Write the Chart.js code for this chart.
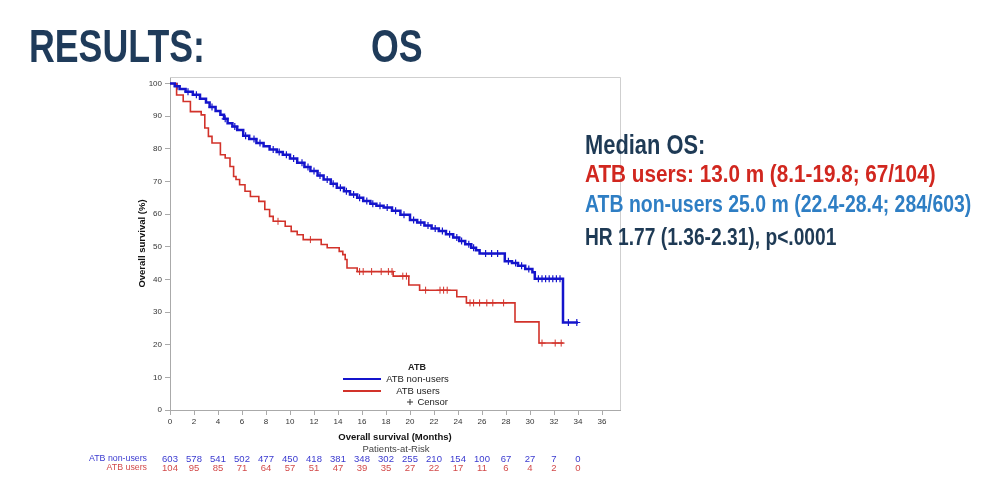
<!DOCTYPE html>
<html>
<head>
<meta charset="utf-8">
<script src="https://cdn.jsdelivr.net/npm/chart.js@4.4.1/dist/chart.umd.min.js"></script>
<style>
body{margin:0;background:#fff;}
#page{position:relative;width:988px;height:494px;overflow:hidden;font-family:'Liberation Sans',Arial,sans-serif;}
canvas{position:absolute;left:0;top:0;}
.t{position:absolute;white-space:nowrap;font-weight:bold;line-height:1;transform-origin:0 0;}
</style>
</head>
<body>
<div id="page">
<canvas id="graphique" width="988" height="494"></canvas>
<div class="t" style="left:29px;top:22px;font-size:47px;color:#1f3b5a;transform:scaleX(0.76)">RESULTS:</div>
<div class="t" style="left:371px;top:22px;font-size:47px;color:#1f3b5a;transform:scaleX(0.76)">OS</div>
<div class="t" style="left:585px;top:132px;font-size:27px;color:#1e3a55;transform:scaleX(0.81)">Median OS:</div>
<div class="t" style="left:585px;top:163px;font-size:23px;color:#d1271f;transform:scaleX(0.9)">ATB users: 13.0 m (8.1-19.8; 67/104)</div>
<div class="t" style="left:585px;top:193px;font-size:23px;color:#2e7ec4;transform:scaleX(0.845)">ATB non-users 25.0 m (22.4-28.4; 284/603)</div>
<div class="t" style="left:585px;top:226px;font-size:23px;color:#1e3a55;transform:scaleX(0.835)">HR 1.77 (1.36-2.31), p&lt;.0001</div>
</div>
<script>
//courbe ATB non-users (mois, survie %)
var nonUsersTemps = [0,0.4,0.8,1.3,1.9,2.5,3.0,3.3,3.8,4.2,4.5,4.8,5.2,5.6,6.1,6.6,7.2,7.8,8.3,8.9,9.4,10.0,10.6,11.2,11.7,12.3,12.8,13.4,13.9,14.5,15.0,15.6,16.1,16.7,17.2,17.8,18.5,19.2,20.0,20.6,21.2,21.8,22.4,23.0,23.6,24.1,24.6,25.1,25.5,25.8,27.9,28.5,29.0,29.6,30.2,30.4,32.75,34.0];
var nonUsersSurvie = [100,99.2,98.3,97.5,96.6,95.3,94.2,92.8,91.6,90.4,89.2,87.8,86.8,85.8,84.0,83.0,81.8,80.8,79.8,79.0,78.2,77.0,75.7,74.4,73.2,71.8,70.6,69.3,68.1,67.0,66.0,65.0,64.0,63.2,62.6,62.0,61.0,59.8,58.2,57.4,56.5,55.6,54.8,53.8,52.8,51.8,50.8,49.7,48.9,47.9,45.6,45.0,44.2,43.2,42.2,40.2,26.8,26.8];

//courbe ATB users
var usersTemps = [0,0.55,1.1,1.7,2.6,2.9,3.2,3.5,4.2,4.6,5.0,5.3,5.5,5.8,6.25,6.7,7.4,7.9,8.3,8.6,9.6,10.1,10.6,11.1,12.6,13.1,14.1,14.4,14.6,14.75,15.6,18.6,19.9,20.8,23.9,24.7,28.75,30.75,32.8];
var usersSurvie = [100,96.5,94.5,91.4,90.4,86.4,83.8,81.8,78.2,77.2,74.6,71.5,70.6,69.0,67.0,65.4,63.9,61.4,59.3,57.8,56.3,54.7,53.7,52.2,50.7,49.7,48.6,47.6,46.1,43.5,42.4,41.0,38.3,36.7,34.7,32.8,27.0,20.5,20.5];

//censures
var nonUsersCensureTemps = [0.6,1.5,2.2,3.5,4.6,5.4,6.3,7.0,7.5,8.6,9.1,9.7,10.3,11.0,11.5,12.0,12.5,13.1,13.6,14.2,14.7,15.3,15.8,16.4,16.9,17.5,18.1,18.8,19.5,20.3,20.9,21.5,22.1,22.7,23.3,23.9,24.3,24.9,25.3,26.3,26.8,27.3,28.2,28.8,29.3,29.9,30.7,31.0,31.3,31.6,31.9,32.2,32.5,33.2,33.9];
var nonUsersCensureSurvie = [99.2,97.5,96.6,92.8,89.2,86.8,84.0,83.0,81.8,79.8,79.0,78.2,77.0,75.7,74.4,73.2,71.8,70.6,69.3,68.1,67.0,66.0,65.0,64.0,63.2,62.6,62.0,61.0,59.8,58.2,57.4,56.5,55.6,54.8,53.8,52.8,51.8,50.8,49.7,47.9,47.9,47.9,45.6,45.0,44.2,43.2,40.2,40.2,40.2,40.2,40.2,40.2,40.2,26.8,26.8];
var usersCensureTemps = [9.0,11.7,15.8,16.1,16.8,17.6,18.2,18.5,19.4,19.7,21.3,22.5,22.8,23.1,25.0,25.3,25.8,26.4,26.9,27.8,31.0,32.1,32.6];
var usersCensureSurvie = [57.8,52.2,42.4,42.4,42.4,42.4,42.4,42.4,41.0,41.0,36.7,36.7,36.7,36.7,32.8,32.8,32.8,32.8,32.8,32.8,20.5,20.5,20.5];

//graduations
var xTicks = [0,2,4,6,8,10,12,14,16,18,20,22,24,26,28,30,32,34,36];
var yTicks = [0,10,20,30,40,50,60,70,80,90,100];

//patients a risque
var risqueTemps = [0,2,4,6,8,10,12,14,16,18,20,22,24,26,28,30,32,34];
var risqueNonUsers = [603,578,541,502,477,450,418,381,348,302,255,210,154,100,67,27,7,0];
var risqueUsers = [104,95,85,71,64,57,51,47,39,35,27,22,17,11,6,4,2,0];

var bleu = '#1414cc';
var rouge = '#d2322a';

function points(xs, ys){
	var tab = [];
	for(let i = 0 ; i < xs.length ; i++){
		tab.push({x : xs[i], y : ys[i]});
	}
	return tab;
}

//cadre, legende et tableau des patients a risque
var decor = {
	id : 'decor',
	afterDraw(chart){
		var ctx = chart.ctx;
		var a = chart.chartArea;
		var sx = chart.scales.x;
		ctx.save();
		ctx.strokeStyle = '#cfcfcf';
		ctx.lineWidth = 1;
		ctx.beginPath();
		ctx.moveTo(a.left, a.top + 0.5);
		ctx.lineTo(a.right + 0.5, a.top + 0.5);
		ctx.lineTo(a.right + 0.5, a.bottom);
		ctx.stroke();

		//legende
		ctx.fillStyle = '#222';
		ctx.textBaseline = 'middle';
		ctx.textAlign = 'center';
		ctx.font = 'bold 9px "Liberation Sans", Arial';
		ctx.fillText('ATB', 417, 368);
		ctx.font = '9.5px "Liberation Sans", Arial';
		ctx.fillText('ATB non-users', 417.5, 379);
		ctx.fillText('ATB users', 418, 391);
		ctx.textAlign = 'right';
		ctx.fillText('Censor', 448, 402);
		ctx.lineWidth = 2;
		ctx.strokeStyle = bleu;
		ctx.beginPath(); ctx.moveTo(343, 379); ctx.lineTo(381, 379); ctx.stroke();
		ctx.strokeStyle = rouge;
		ctx.beginPath(); ctx.moveTo(343, 391); ctx.lineTo(381, 391); ctx.stroke();
		ctx.strokeStyle = '#333';
		ctx.lineWidth = 1;
		ctx.beginPath(); ctx.moveTo(407, 402); ctx.lineTo(413, 402); ctx.moveTo(410, 399); ctx.lineTo(410, 405); ctx.stroke();

		//patients a risque
		ctx.textAlign = 'center';
		ctx.fillStyle = '#444';
		ctx.font = '9.5px "Liberation Sans", Arial';
		ctx.fillText('Patients-at-Risk', 396, 449);
		for(let i = 0 ; i < risqueTemps.length ; i++){
			var px = sx.getPixelForValue(risqueTemps[i]);
			ctx.fillStyle = '#3a3ad0';
			ctx.fillText(String(risqueNonUsers[i]), px, 459);
			ctx.fillStyle = '#d24a4a';
			ctx.fillText(String(risqueUsers[i]), px, 468);
		}
		ctx.textAlign = 'right';
		ctx.font = '8.8px "Liberation Sans", Arial';
		ctx.fillStyle = '#3a3ad0';
		ctx.fillText('ATB non-users', 147, 459);
		ctx.fillStyle = '#d24a4a';
		ctx.fillText('ATB users', 147, 468);
		ctx.restore();
	}
};

var ctx1 = document.getElementById('graphique').getContext('2d');
var graph = new Chart(ctx1, {
	type : 'line',
	data : {
		datasets : [
			{label : 'ATB non-users', data : points(nonUsersTemps, nonUsersSurvie), borderColor : bleu, borderWidth : 2.5, stepped : true, pointRadius : 0, fill : false},
			{label : 'ATB users', data : points(usersTemps, usersSurvie), borderColor : rouge, borderWidth : 1.6, stepped : true, pointRadius : 0, fill : false},
			{label : 'Censor non-users', data : points(nonUsersCensureTemps, nonUsersCensureSurvie), showLine : false, pointStyle : 'cross', pointRadius : 3.5, borderColor : bleu, borderWidth : 1.2},
			{label : 'Censor users', data : points(usersCensureTemps, usersCensureSurvie), showLine : false, pointStyle : 'cross', pointRadius : 3.5, borderColor : rouge, borderWidth : 1}
		]
	},
	options : {
		responsive : false,
		animation : false,
		devicePixelRatio : 1,
		layout : {padding : {left : 120, right : 368, top : 77, bottom : 44}},
		plugins : {legend : {display : false}, tooltip : {enabled : false}},
		scales : {
			x : {
				type : 'linear', min : 0, max : 37.5,
				afterFit(s){ s.height = 40; },
				afterBuildTicks(s){ s.ticks = xTicks.map(v => ({value : v})); },
				ticks : {color : '#333', font : {size : 8, family : '"Liberation Sans", Arial'}, padding : 2, maxRotation : 0, autoSkip : false},
				grid : {drawOnChartArea : false, tickLength : 5, color : '#aaa'},
				border : {color : '#aaa'},
				title : {display : true, text : 'Overall survival (Months)', color : '#111', font : {size : 9.5, weight : 'bold', family : '"Liberation Sans", Arial'}, padding : {top : 0, bottom : 7}}
			},
			y : {
				min : 0, max : 102,
				afterFit(s){ s.width = 50; },
				afterBuildTicks(s){ s.ticks = yTicks.map(v => ({value : v})); },
				ticks : {color : '#333', font : {size : 8, family : '"Liberation Sans", Arial'}, padding : 3, autoSkip : false},
				grid : {drawOnChartArea : false, tickLength : 5, color : '#aaa'},
				border : {color : '#aaa'},
				title : {display : true, text : 'Overall survival (%)', color : '#111', font : {size : 9.5, weight : 'bold', family : '"Liberation Sans", Arial'}, padding : {top : 17, bottom : 0}}
			}
		}
	},
	plugins : [decor]
});
</script>
</body>
</html>
